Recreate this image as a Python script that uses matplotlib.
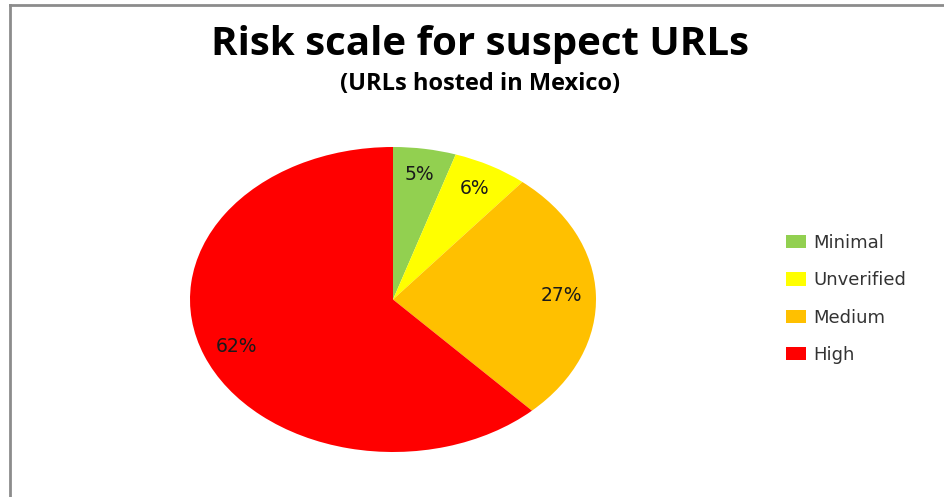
import matplotlib.pyplot as plt
from matplotlib.lines import Line2D

# Risk share of suspect URLs hosted in Mexico
categories = ['Minimal', 'Unverified', 'Medium', 'High']
shares = [5, 6, 27, 62]
colors = ['#92D050', '#FFFF00', '#FFC000', '#FF0000']

fig = plt.figure(figsize=(9.44, 4.97), dpi=100)

# frame lines (top and left only, as in the source)
fig.add_artist(Line2D([10 / 944, 1], [1 - 5 / 497, 1 - 5 / 497], color='#8c8c8c', lw=2))
fig.add_artist(Line2D([10 / 944, 10 / 944], [0, 1 - 5 / 497], color='#8c8c8c', lw=2))

fig.text(480 / 944, 1 - 45 / 497, 'Risk scale for suspect URLs', ha='center', va='center',
         fontsize=29, fontweight='bold', family='Open Sans')
fig.text(480 / 944, 1 - 84 / 497, '(URLs hosted in Mexico)', ha='center', va='center',
         fontsize=17, fontweight='bold', family='Open Sans')

# pie is stretched horizontally in the reference, so the axes aspect is left free
ax = fig.add_axes([190 / 944, 1 - 452 / 497, 406 / 944, 305 / 497])
wedges, texts, autotexts = ax.pie(shares, colors=colors, startangle=90, counterclock=False,
                                  autopct='%d%%', pctdistance=0.83,
                                  textprops={'fontsize': 13.5, 'color': '#1a1a1a',
                                             'family': 'DejaVu Sans'})
ax.set_aspect('auto')
ax.set_xlim(-1, 1)
ax.set_ylim(-1, 1)

fig.legend(wedges, categories, loc='center left', bbox_to_anchor=(770 / 944, 1 - 299 / 497),
           frameon=False, prop={'family': 'DejaVu Sans', 'size': 13}, handlelength=1.1,
           handleheight=0.75, labelspacing=1.07, handletextpad=0.4, labelcolor='#333333')

plt.savefig('out.png', dpi=100)
